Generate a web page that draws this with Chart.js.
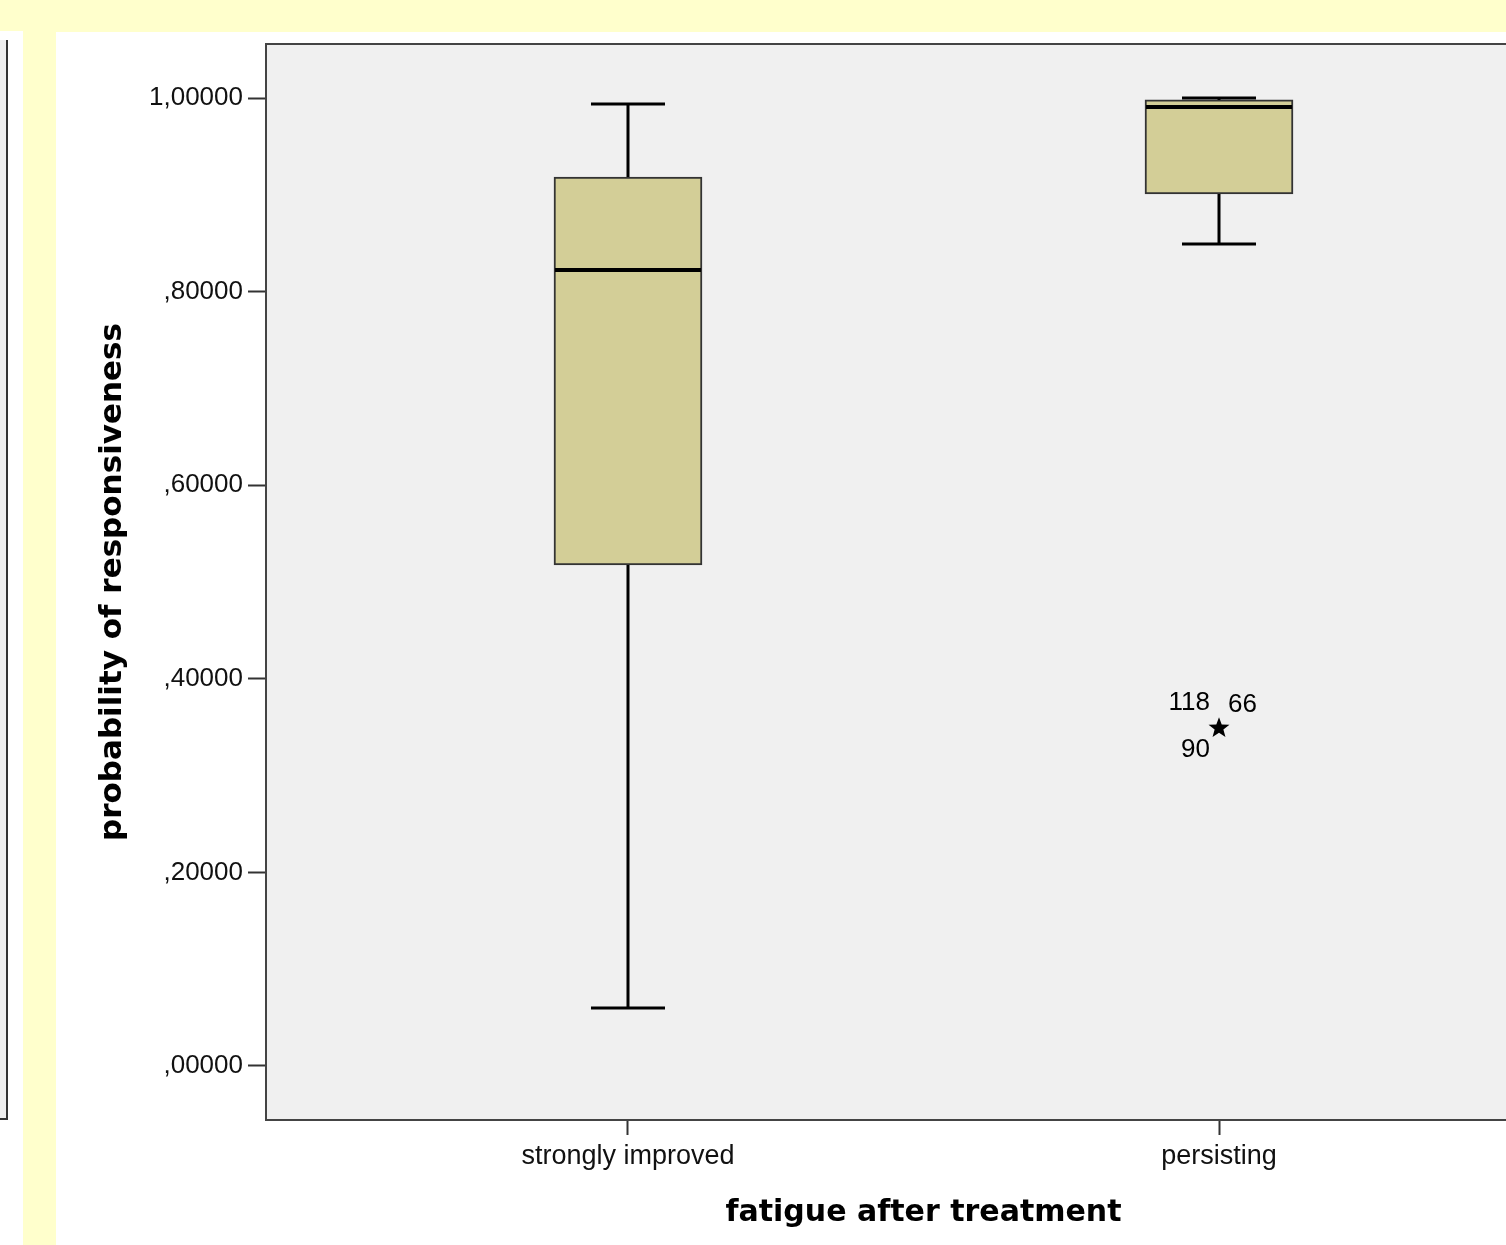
<!DOCTYPE html>
<html>
<head>
<meta charset="utf-8">
<script src="https://cdn.jsdelivr.net/npm/chart.js@4/dist/chart.umd.min.js"></script>
<style>
  html, body { margin: 0; padding: 0; }
  body { width: 1506px; height: 1245px; overflow: hidden; background: #FFFFCC; position: relative; }
  #leftStrip { position: absolute; left: 0; top: 31px; width: 23px; height: 1214px; background: #ffffff; }
  #leftPanel { position: absolute; left: 0; top: 40px; width: 6px; height: 1078px; background: #EFEFEF;
               border-right: 2px solid #333; border-bottom: 2px solid #333; }
  #sheet { position: absolute; left: 56px; top: 32px; width: 1450px; height: 1213px; background: #ffffff; overflow: hidden; }
  #chart { position: absolute; left: 0; top: 0; }
</style>
</head>
<body>
<div id="leftStrip"></div>
<div id="leftPanel"></div>
<div id="sheet"><canvas id="chart" width="1530" height="1213"></canvas></div>
<script>
// Groups on the horizontal axis
const categories = ['strongly improved', 'persisting'];

// Five-number summaries per group
const whiskerLow  = [0.0599, 0.8492];
const q1          = [0.5176, 0.9008];
const median      = [0.8223, 0.9907];
const q3          = [0.9184, 0.9980];
const whiskerHigh = [0.9938, 1.0000];

// Extreme values (group index, value, case id)
const extremeGroup = [1, 1, 1];
const extremeValue = [0.349, 0.349, 0.349];
const extremeIds   = ['118', '66', '90'];

// Value axis ticks
const yTicks = [0, 0.2, 0.4, 0.6, 0.8, 1.0];
const yMin = -0.0558, yMax = 1.0558;
const xMin = -0.6125, xMax = 1.6125;

const BOX_WIDTH = 148;
const tickFont = { family: '"Liberation Sans", Arial, sans-serif', size: 26 };
const xTickFont = { family: '"Liberation Sans", Arial, sans-serif', size: 27 };
const titleFont = { family: '"DejaVu Sans", Verdana, sans-serif', size: 30, weight: 'bold', lineHeight: 1.2 };
const yTitleFont = { family: '"DejaVu Sans", Verdana, sans-serif', size: 31, weight: 'bold', lineHeight: 1.2 };

function fmtTick(v) {
  return v.toFixed(5).replace('.', ',').replace(/^0/, '');
}

function starPath(ctx, cx, cy, rOut, rIn) {
  ctx.beginPath();
  for (let k = 0; k < 10; k++) {
    const r = k % 2 === 0 ? rOut : rIn;
    const a = -Math.PI / 2 + k * Math.PI / 5;
    const px = cx + r * Math.cos(a), py = cy + r * Math.sin(a);
    if (k === 0) ctx.moveTo(px, py); else ctx.lineTo(px, py);
  }
  ctx.closePath();
}

const boxPlotPlugin = {
  id: 'boxPlotParts',
  beforeDatasetsDraw(chart) {
    const { ctx, chartArea: a } = chart;
    ctx.save();
    ctx.fillStyle = '#F0F0F0';
    ctx.fillRect(a.left, a.top, a.right - a.left, a.bottom - a.top);
    ctx.restore();
  },
  afterDatasetsDraw(chart) {
    const { ctx, scales: { x, y } } = chart;
    ctx.save();
    ctx.strokeStyle = '#000';
    ctx.lineCap = 'butt';
    categories.forEach((c, i) => {
      const cx = x.getPixelForValue(i);
      const half = BOX_WIDTH / 2, capHalf = BOX_WIDTH / 4;
      // whiskers
      ctx.lineWidth = 3;
      ctx.beginPath();
      ctx.moveTo(cx, y.getPixelForValue(q3[i]));
      ctx.lineTo(cx, y.getPixelForValue(whiskerHigh[i]));
      ctx.moveTo(cx, y.getPixelForValue(q1[i]));
      ctx.lineTo(cx, y.getPixelForValue(whiskerLow[i]));
      ctx.stroke();
      // caps
      ctx.beginPath();
      [whiskerHigh[i], whiskerLow[i]].forEach(v => {
        const py = y.getPixelForValue(v);
        ctx.moveTo(cx - capHalf, py);
        ctx.lineTo(cx + capHalf, py);
      });
      ctx.stroke();
      // median
      ctx.lineWidth = 4;
      ctx.beginPath();
      const my = y.getPixelForValue(median[i]);
      ctx.moveTo(cx - half + 1, my);
      ctx.lineTo(cx + half - 1, my);
      ctx.stroke();
    });
    // extreme values
    ctx.fillStyle = '#000';
    ctx.font = '26px "Liberation Sans", Arial, sans-serif';
    ctx.textBaseline = 'middle';
    const labelOffsets = [[-9, -25, 'right'], [9, -23, 'left'], [-9, 22, 'right']];
    extremeValue.forEach((v, k) => {
      const sx = x.getPixelForValue(extremeGroup[k]);
      const sy = y.getPixelForValue(v);
      if (k === 0) { starPath(ctx, sx, sy, 11, 4.6); ctx.fill(); }
      const o = labelOffsets[k];
      ctx.textAlign = o[2];
      ctx.fillText(extremeIds[k], sx + o[0], sy + o[1]);
    });
    ctx.restore();
  },
  afterDraw(chart) {
    const { ctx, chartArea: a } = chart;
    ctx.save();
    ctx.strokeStyle = '#444';
    ctx.lineWidth = 2;
    ctx.strokeRect(a.left, a.top, a.right - a.left, a.bottom - a.top);
    ctx.restore();
  }
};

new Chart(document.getElementById('chart'), {
  type: 'bar',
  data: {
    datasets: [{
      data: categories.map((c, i) => ({ x: i, y: [q1[i], q3[i]] })),
      backgroundColor: '#D3CE97',
      borderColor: '#333',
      borderWidth: 2,
      borderSkipped: false,
      barThickness: BOX_WIDTH
    }]
  },
  options: {
    responsive: false,
    animation: false,
    layout: { padding: { left: 0, top: 12, right: 5, bottom: 0 } },
    plugins: { legend: { display: false }, tooltip: { enabled: false } },
    scales: {
      x: {
        type: 'linear',
        min: xMin, max: xMax,
        offset: false,
        afterBuildTicks(s) { s.ticks = categories.map((c, i) => ({ value: i })); },
        afterFit(s) { s.height = 125; s.paddingLeft = 0; s.paddingRight = 0; },
        ticks: {
          callback: v => categories[v],
          font: xTickFont, color: '#111', padding: 5, maxRotation: 0, autoSkip: false
        },
        grid: { offset: false, drawOnChartArea: false, drawTicks: true, tickLength: 15, tickColor: '#333', tickWidth: 2 },
        border: { display: false },
        title: { display: true, text: 'fatigue after treatment', font: titleFont, color: '#000', padding: { top: 0, bottom: 14 } }
      },
      y: {
        min: yMin, max: yMax,
        afterBuildTicks(s) { s.ticks = yTicks.map(v => ({ value: v })); },
        afterFit(s) { s.width = 210; s.paddingTop = 0; s.paddingBottom = 0; },
        ticks: { callback: v => fmtTick(v), font: tickFont, color: '#111', padding: 5 },
        grid: { drawOnChartArea: false, drawTicks: true, tickLength: 18, tickColor: '#333', tickWidth: 2 },
        border: { display: false },
        title: { display: true, text: 'probability of responsiveness', font: yTitleFont, color: '#000', padding: { top: 38, bottom: 0 } }
      }
    }
  },
  plugins: [boxPlotPlugin]
});
</script>
</body>
</html>
